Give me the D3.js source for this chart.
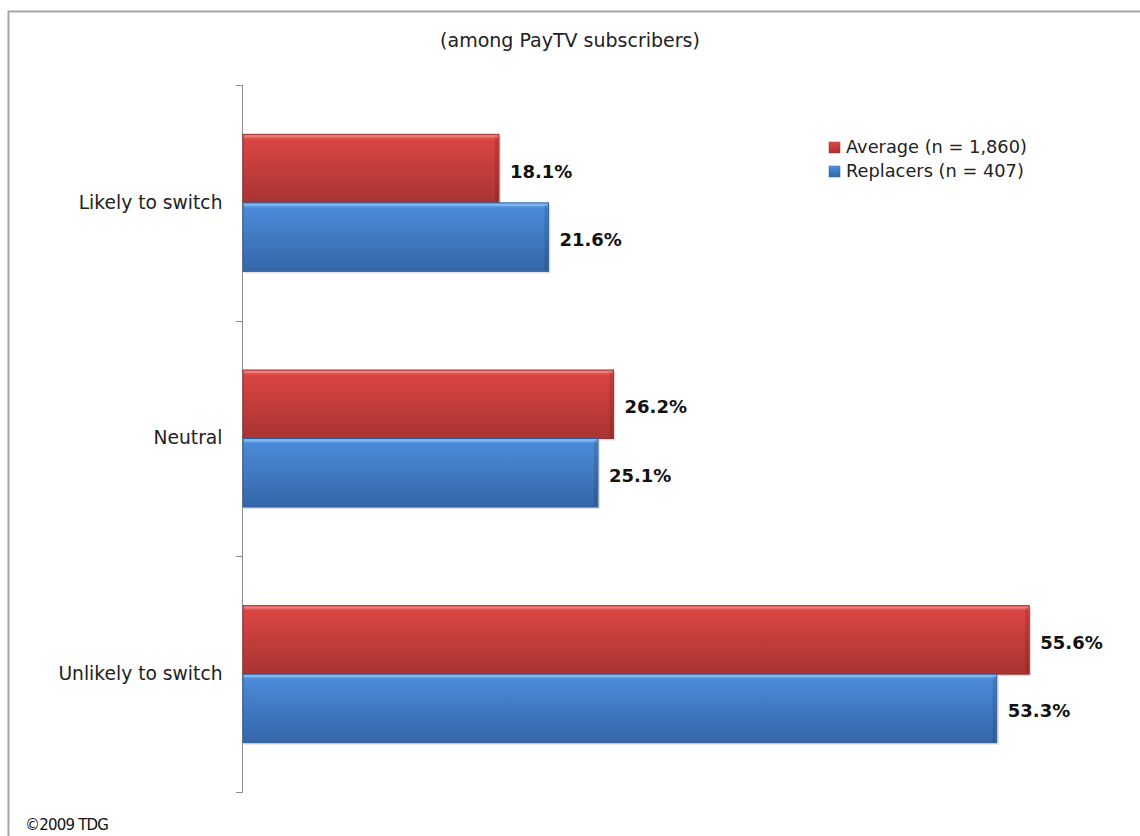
<!DOCTYPE html>
<html><head><meta charset="utf-8">
<script src="https://cdn.jsdelivr.net/npm/d3@7"></script>
<style>
body{margin:0;background:#fff;}
svg{display:block;}
text{font-family:"DejaVu Sans",sans-serif;}
</style></head>
<body>
<script>
const categories = ["Likely to switch", "Neutral", "Unlikely to switch"];
const seriesNames = ["Average (n = 1,860)", "Replacers (n = 407)"];
const averageValues = [18.1, 26.2, 55.6];
const replacerValues = [21.6, 25.1, 53.3];
const title = "(among PayTV subscribers)";
const footer = "©2009 TDG";

const W = 1140, H = 836;
const svg = d3.select("body").append("svg").attr("width", W).attr("height", H);
const defs = svg.append("defs");

function grad(id, top, mid, bot) {
  const g = defs.append("linearGradient").attr("id", id).attr("x1", 0).attr("y1", 0).attr("x2", 0).attr("y2", 1);
  g.append("stop").attr("offset", "0%").attr("stop-color", top);
  g.append("stop").attr("offset", "8%").attr("stop-color", mid);
  g.append("stop").attr("offset", "100%").attr("stop-color", bot);
}
grad("gRed", "#ec7470", "#d94542", "#a83431");
grad("gBlue", "#7ab2f0", "#4a8ad8", "#3566a8");

// outer border (open at right & bottom like reference crop)
svg.append("path").attr("d", "M8.5,836 V11.5 H1140").attr("fill", "none").attr("stroke", "#a6a6a6").attr("stroke-width", 2);

const plotTop = 85, plotBottom = 792, x0 = 243;
const x = d3.scaleLinear().domain([0, 60]).range([x0, x0 + 848.5]);
const y = d3.scaleBand().domain(categories).range([plotTop, plotBottom]);
const inner = d3.scaleBand().domain([0, 1]).range([0, y.bandwidth()]).paddingOuter(0.72).paddingInner(0);

// Axis
const yAxis = d3.axisLeft(y).tickSize(0).tickPadding(20);
const ag = svg.append("g").attr("transform", `translate(${x0 - 0.5},0)`).call(yAxis);
ag.select(".domain").attr("stroke", "#8c8c8c").attr("d", `M-6,${plotTop + 0.5}H0V${plotBottom + 0.5}H-6`);
ag.selectAll(".tick text").attr("font-size", 18.7).attr("fill", "#222").attr("font-family", "DejaVu Sans, sans-serif");
// tick marks at band boundaries
const boundaries = categories.map(c => y(c)).concat([plotBottom]);
svg.append("g").selectAll("line").data(boundaries).join("line")
  .attr("x1", x0 - 7).attr("x2", x0).attr("y1", d => Math.round(d) + 0.5).attr("y2", d => Math.round(d) + 0.5)
  .attr("stroke", "#8c8c8c");

const series = [
  {name: seriesNames[0], values: averageValues, fill: "url(#gRed)", stroke: "#9c2f2c", hi: "#f08a86"},
  {name: seriesNames[1], values: replacerValues, fill: "url(#gBlue)", stroke: "#2f5f9e", hi: "#8cc0f5"}
];

series.forEach((s, si) => {
  const g = svg.append("g");
  categories.forEach((c, ci) => {
    const by = y(c) + inner(si);
    const bh = inner.bandwidth();
    const bw = x(s.values[ci]) - x(0);
    g.append("rect").attr("x", x(0) + 1).attr("y", by + 2).attr("width", bw + 1).attr("height", bh).attr("fill", "#000").attr("opacity", 0.12);
    g.append("rect").attr("x", x(0)).attr("y", by).attr("width", bw).attr("height", bh)
      .attr("fill", s.fill).attr("stroke", s.stroke).attr("stroke-width", 1);
    g.append("rect").attr("x", x(0) + 1).attr("y", by + 1).attr("width", bw - 2).attr("height", 2).attr("fill", s.hi).attr("opacity", 0.7);
    g.append("rect").attr("x", x(0) + bw - 4).attr("y", by + 2).attr("width", 3).attr("height", bh - 3).attr("fill", "#000").attr("opacity", 0.12);
    g.append("text").attr("x", x(s.values[ci]) + 11).attr("y", by + bh / 2 + 4)
      .attr("dominant-baseline", "middle").attr("font-size", 18).attr("font-weight", "bold").attr("fill", "#111")
      .text(s.values[ci].toFixed(1) + "%");
  });
});

// Title
svg.append("text").attr("x", 570).attr("y", 47).attr("text-anchor", "middle").attr("font-size", 19).attr("fill", "#222").text(title);

// Legend
const lg = svg.append("g");
series.forEach((s, i) => {
  const ly = 147 + i * 24;
  lg.append("rect").attr("x", 829).attr("y", ly - 5).attr("width", 11).attr("height", 11).attr("fill", s.fill).attr("stroke", s.stroke).attr("stroke-width", 0.5);
  lg.append("text").attr("x", 846).attr("y", ly + 1).attr("dominant-baseline", "middle").attr("font-size", 17.8).attr("fill", "#222").text(s.name);
});

// Footer
svg.append("text").attr("x", 25).attr("y", 830).attr("font-size", 15).attr("letter-spacing", "-0.8").attr("font-family", "Open Sans, sans-serif").attr("fill", "#111").text(footer);
</script>
</body></html>
